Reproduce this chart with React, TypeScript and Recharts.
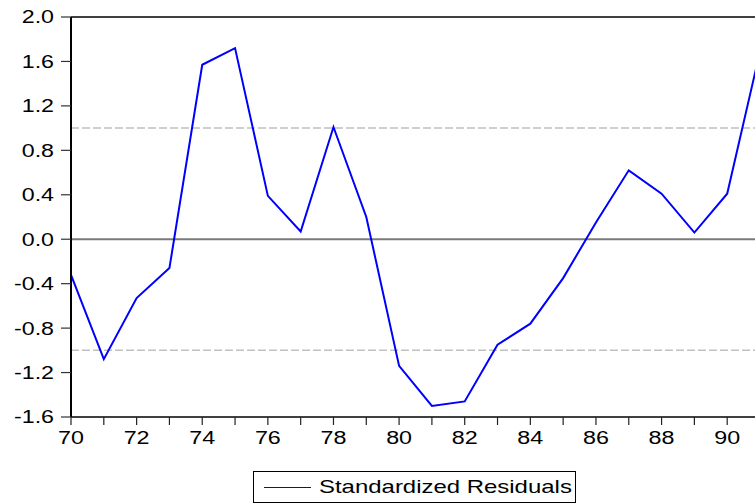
import { LineChart, Line, XAxis, YAxis, ReferenceLine } from 'recharts';

const years = [70, 71, 72, 73, 74, 75, 76, 77, 78, 79, 80, 81, 82, 83, 84, 85, 86, 87, 88, 89, 90, 91];
const residuals = [
  -0.32, -1.08, -0.53, -0.26, 1.57, 1.72, 0.39, 0.07, 1.01, 0.2, -1.14,
  -1.5, -1.46, -0.95, -0.76, -0.35, 0.15, 0.62, 0.41, 0.06, 0.41, 1.69,
];
const yTicks = [-1.6, -1.2, -0.8, -0.4, 0.0, 0.4, 0.8, 1.2, 1.6, 2.0];
const xTicks = years;
const bands = [-1, 1];

const data = years.map((year, i) => ({ year, resid: residuals[i] }));

const FONT = '"Liberation Sans", Arial, Helvetica, sans-serif';
// the labels are drawn in a wide face, so stretch the text horizontally
const STRETCH = 1.26;

function XTick({ x, y, payload }: any) {
  if (payload.value % 2 !== 0) return null;
  return (
    <g transform={`translate(${x},${y})`}>
      <text
        transform={`scale(${STRETCH},1)`}
        dy="0.71em"
        textAnchor="middle"
        fontFamily={FONT}
        fontSize={18.5}
        fill="#000"
      >
        {payload.value}
      </text>
    </g>
  );
}

function YTick({ x, y, payload }: any) {
  return (
    <g transform={`translate(${x + 1},${y})`}>
      <text
        transform={`scale(${STRETCH + 0.03},1)`}
        dy="0.355em"
        textAnchor="end"
        fontFamily={FONT}
        fontSize={18}
        fill="#000"
      >
        {payload.value.toFixed(1)}
      </text>
    </g>
  );
}

export default function App() {
  return (
    <div
      style={{
        position: 'absolute',
        left: 0,
        top: 0,
        width: 755,
        height: 504,
        overflow: 'hidden',
        background: '#fff',
      }}
    >
      <LineChart
        width={780}
        height={504}
        data={data}
        margin={{ top: 17, right: 20, left: 0, bottom: 0 }}
      >
        <XAxis
          dataKey="year"
          type="number"
          domain={[70, 91]}
          ticks={xTicks}
          interval={0}
          height={87}
          tickSize={8}
          tickMargin={6}
          axisLine={{ stroke: '#000', strokeWidth: 1.5 }}
          tickLine={{ stroke: '#222', strokeWidth: 1.2 }}
          tick={<XTick />}
        />
        <YAxis
          type="number"
          domain={[-1.6, 2]}
          ticks={yTicks}
          interval={0}
          width={71}
          allowDataOverflow
          tickSize={10}
          tickMargin={8}
          axisLine={{ stroke: '#000', strokeWidth: 2 }}
          tickLine={{ stroke: '#333', strokeWidth: 1.2 }}
          tick={<YTick />}
        />
        {bands.map((b) => (
          <ReferenceLine
            key={b}
            y={b}
            stroke="#c0c0c0"
            strokeWidth={1.5}
            strokeDasharray="8 3"
          />
        ))}
        <ReferenceLine y={0} stroke="#7a7a7a" strokeWidth={2} />
        <ReferenceLine y={2} stroke="#000" strokeWidth={1.5} />
        <Line
          type="linear"
          dataKey="resid"
          stroke="#0000ff"
          strokeWidth={2}
          dot={false}
          isAnimationActive={false}
        />
      </LineChart>
      <div
        style={{
          position: 'absolute',
          left: 253,
          top: 471,
          width: 321,
          height: 30,
          border: '1px solid #000',
          display: 'flex',
          alignItems: 'center',
          fontFamily: FONT,
          fontSize: 19,
          color: '#000',
          whiteSpace: 'nowrap',
        }}
      >
        <span
          style={{
            display: 'inline-block',
            width: 47,
            height: 0,
            borderTop: '1.5px solid #0000ff',
            marginLeft: 10,
            marginRight: 8,
          }}
        />
        <span
          style={{
            display: 'inline-block',
            transform: `scale(${STRETCH},1)`,
            transformOrigin: 'left center',
          }}
        >
          Standardized Residuals
        </span>
      </div>
    </div>
  );
}
